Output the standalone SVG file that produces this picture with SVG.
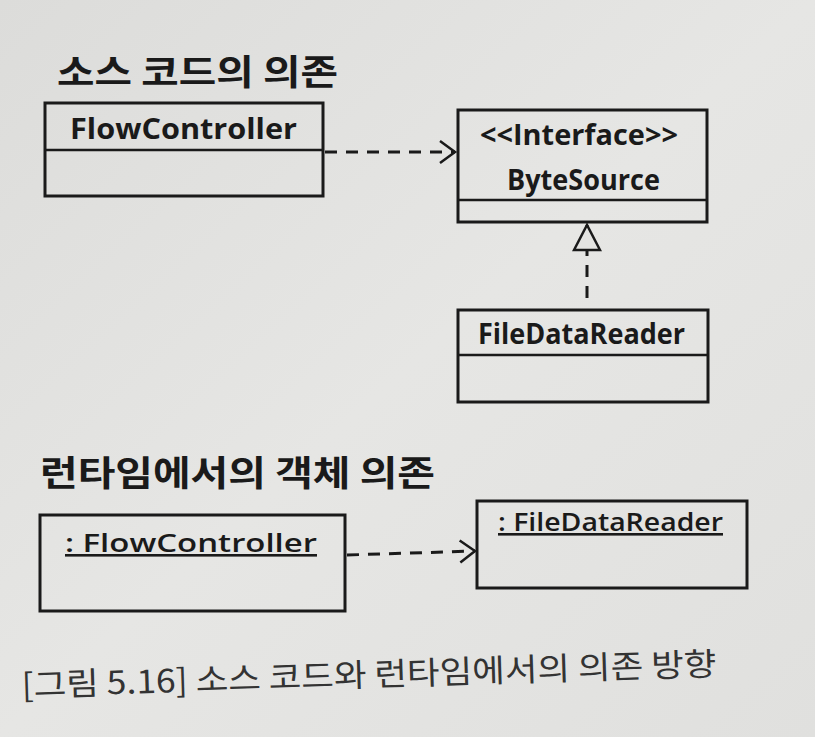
<svg xmlns="http://www.w3.org/2000/svg" width="815" height="737" viewBox="0 0 815 737">
<defs>
<style>
.box{fill:none;stroke:#1a1a1a;stroke-width:3}
.div{stroke:#1a1a1a;stroke-width:2.5}
.cls{font-family:"Open Sans","Noto Sans",sans-serif;font-weight:bold;font-size:28px;fill:#1a1a1a}
.obj{font-family:"Open Sans","Noto Sans",sans-serif;font-weight:600;font-size:26px;fill:#1a1a1a;text-decoration:underline}
.ttl{font-family:"Noto Sans CJK KR",sans-serif;font-weight:bold;font-size:35px;fill:#1a1a1a}
.cap{font-family:"Noto Sans CJK KR",sans-serif;font-size:32px;fill:#333}
.dash{fill:none;stroke:#1a1a1a;stroke-width:3;stroke-dasharray:12 9}
</style>
<marker id="open" markerWidth="20" markerHeight="28" refX="17" refY="14" orient="auto" markerUnits="userSpaceOnUse">
<path d="M2,3 L17,14 L2,25" fill="none" stroke="#1a1a1a" stroke-width="2.5"/>
</marker>
<marker id="tri" markerWidth="30" markerHeight="30" refX="27" refY="15" orient="auto" markerUnits="userSpaceOnUse">
<path d="M2,2 L27,15 L2,28 Z" fill="#e3e3e1" stroke="#1a1a1a" stroke-width="2.5"/>
</marker>
<linearGradient id="bg" x1="0" y1="0" x2="1" y2="1">
<stop offset="0" stop-color="#dcdcda"/>
<stop offset="0.5" stop-color="#e6e6e4"/>
<stop offset="1" stop-color="#e0e0de"/>
</linearGradient>
</defs>
<rect width="815" height="737" fill="url(#bg)"/>

<text class="ttl" x="57" y="85" textLength="281" lengthAdjust="spacingAndGlyphs">소스 코드의 의존</text>

<g id="flowcontroller">
<rect class="box" x="45" y="103" width="278" height="93"/>
<line class="div" x1="45" y1="150" x2="323" y2="150"/>
<text class="cls" x="70" y="139" textLength="227" lengthAdjust="spacingAndGlyphs">FlowController</text>
</g>

<g id="bytesource">
<rect class="box" x="458" y="110" width="249" height="112"/>
<line class="div" x1="458" y1="200" x2="707" y2="200"/>
<text class="cls" x="480" y="145" font-size="25" textLength="198" lengthAdjust="spacingAndGlyphs">&lt;&lt;Interface&gt;&gt;</text>
<text class="cls" x="507" y="190" textLength="153" lengthAdjust="spacingAndGlyphs">ByteSource</text>
</g>

<g id="filedatareader">
<rect class="box" x="458" y="310" width="250" height="92"/>
<line class="div" x1="458" y1="355" x2="708" y2="355"/>
<text class="cls" x="478" y="344" textLength="207" lengthAdjust="spacingAndGlyphs">FileDataReader</text>
</g>

<text class="ttl" x="40" y="486" textLength="395" lengthAdjust="spacingAndGlyphs">런타임에서의 객체 의존</text>

<g id="obj-flowcontroller">
<rect class="box" x="40" y="515" width="305" height="96"/>
<text class="obj" x="65" y="552" textLength="252" lengthAdjust="spacingAndGlyphs">: FlowController</text>
</g>

<g id="obj-filedatareader">
<rect class="box" x="477" y="501" width="270" height="87"/>
<text class="obj" x="498" y="531" textLength="225" lengthAdjust="spacingAndGlyphs">: FileDataReader</text>
</g>

<g id="connectors">
<line class="dash" x1="325" y1="152" x2="455" y2="152" marker-end="url(#open)"/>
<line class="dash" x1="587" y1="298" x2="587" y2="225" marker-end="url(#tri)"/>
<line class="dash" x1="347" y1="555" x2="475" y2="551" marker-end="url(#open)"/>
</g>

<text class="cap" x="22" y="697" transform="rotate(-1.8 22 697)" textLength="695" lengthAdjust="spacingAndGlyphs">[그림 5.16] 소스 코드와 런타임에서의 의존 방향</text>
</svg>
